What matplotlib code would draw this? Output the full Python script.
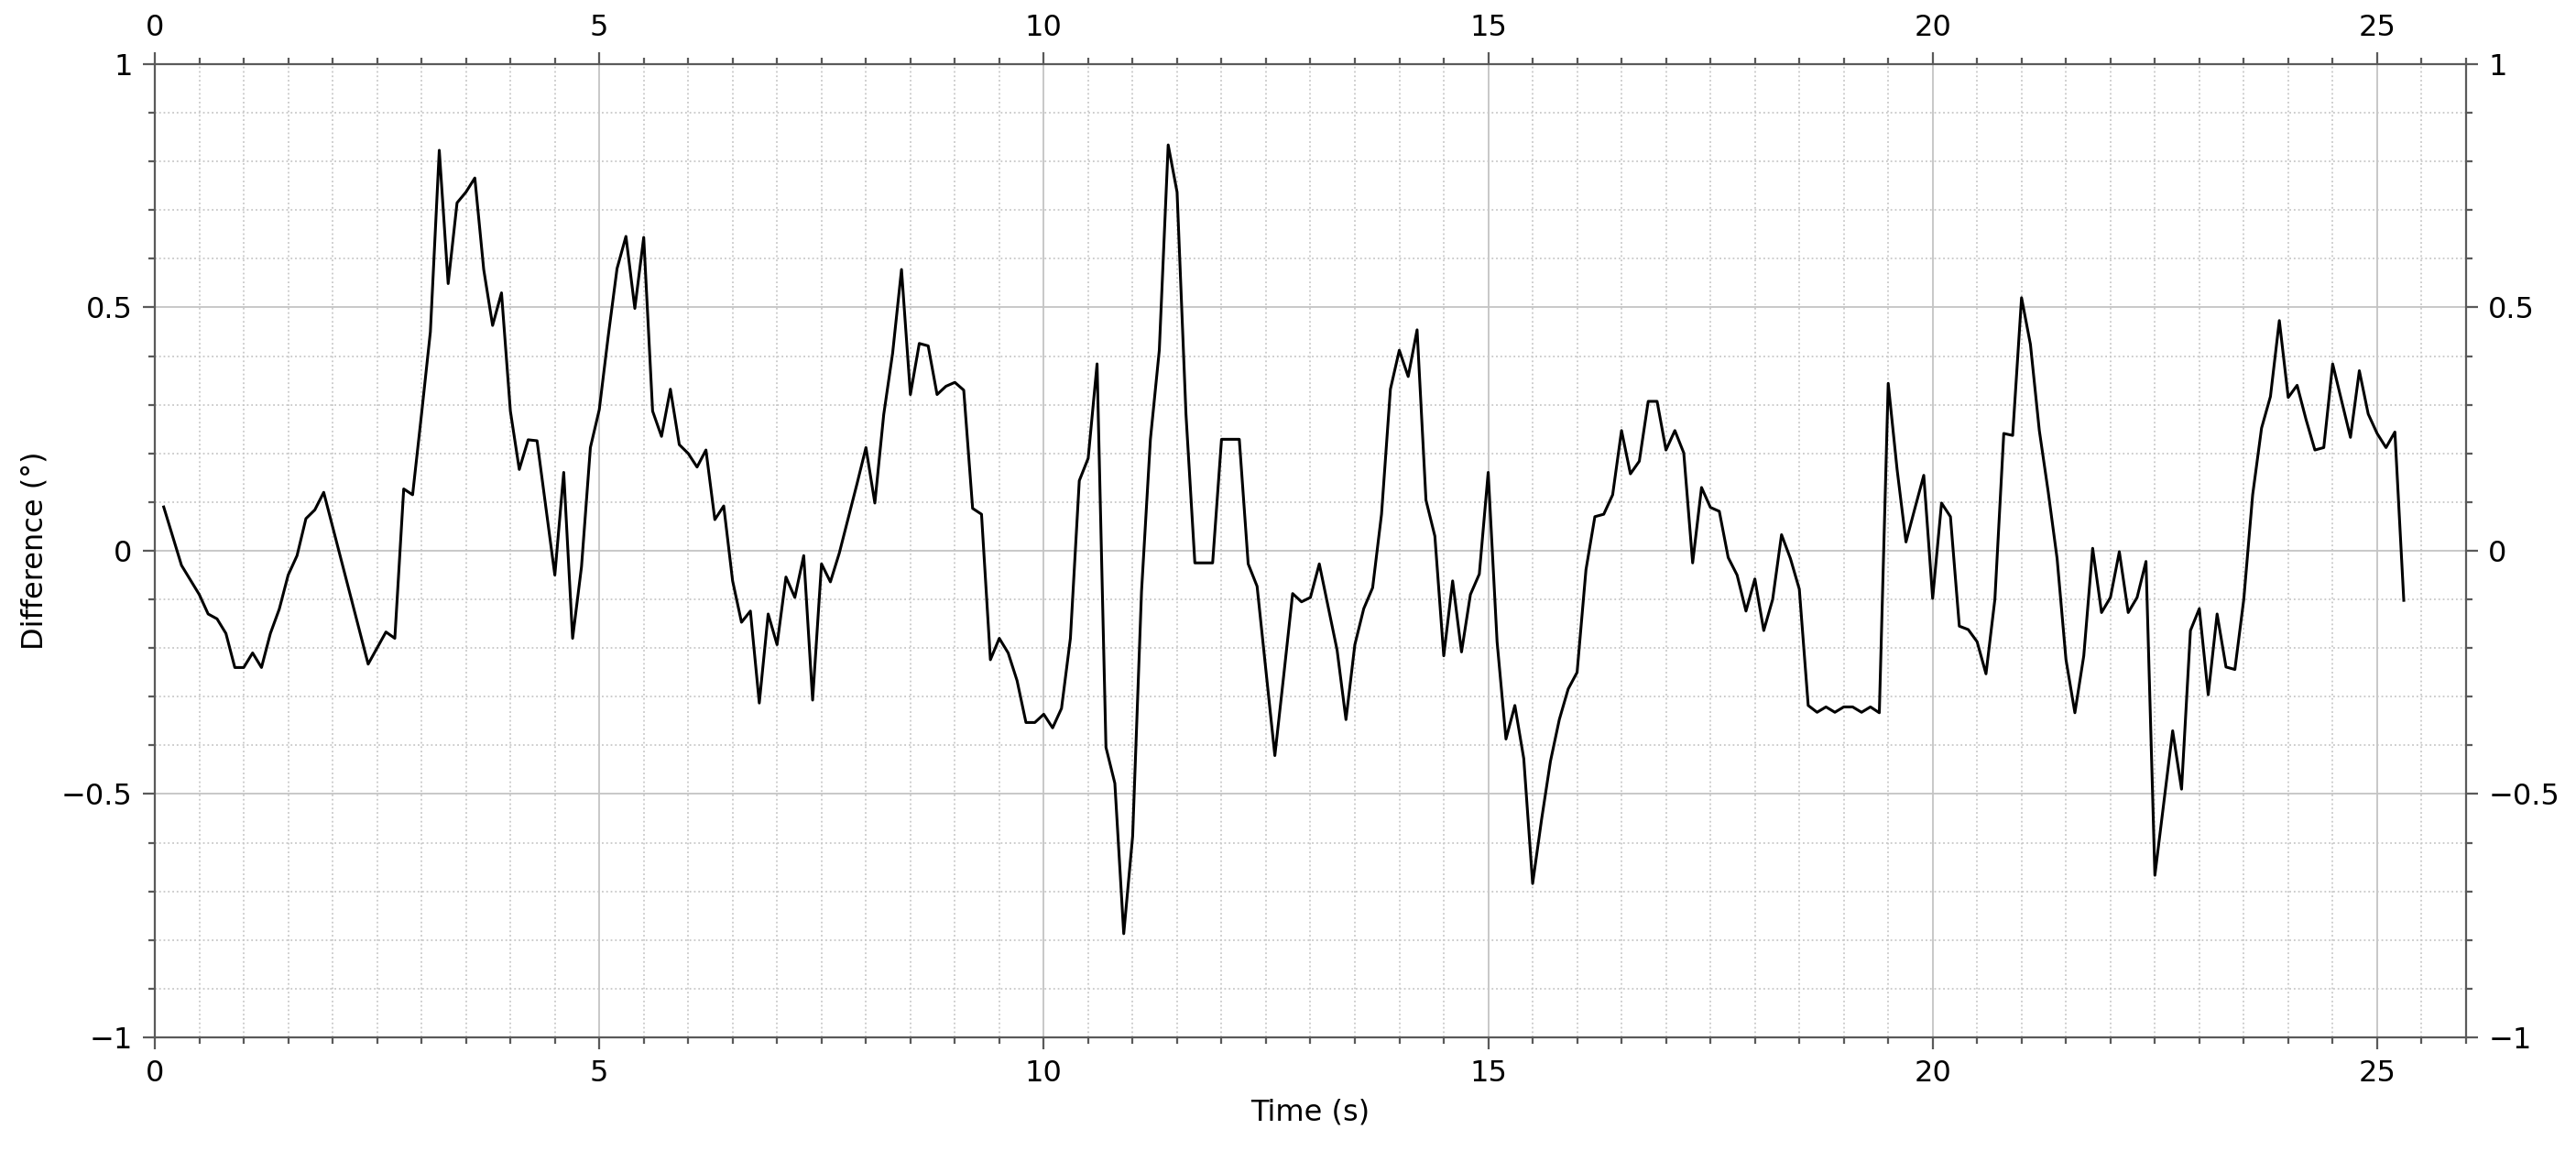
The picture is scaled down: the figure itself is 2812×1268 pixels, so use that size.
import numpy as np
import matplotlib
matplotlib.use("Agg")
import matplotlib.pyplot as plt
from matplotlib.ticker import MultipleLocator

# Sample times (s) of the visible vertices of the trace
time_s = [
    0.1, 0.2, 0.3, 0.4, 0.5, 0.6, 0.7, 0.8, 0.9, 1.0,
    1.1, 1.2, 1.3, 1.4, 1.5, 1.6, 1.7, 1.8, 1.9, 2.4,
    2.5, 2.6, 2.7, 2.8, 2.9, 3.0, 3.1, 3.2, 3.3, 3.4,
    3.5, 3.6, 3.7, 3.8, 3.9, 4.0, 4.1, 4.2, 4.3, 4.5,
    4.6, 4.7, 4.8, 4.9, 5.0, 5.1, 5.2, 5.3, 5.4, 5.5,
    5.6, 5.7, 5.8, 5.9, 6.0, 6.1, 6.2, 6.3, 6.4, 6.5,
    6.6, 6.7, 6.8, 6.9, 7.0, 7.1, 7.2, 7.3, 7.4, 7.5,
    7.6, 7.7, 7.9, 8.0, 8.1, 8.2, 8.3, 8.4, 8.5, 8.6,
    8.7, 8.8, 8.9, 9.0, 9.1, 9.2, 9.3, 9.4, 9.5, 9.6,
    9.7, 9.8, 9.9, 10.0, 10.1, 10.2, 10.3, 10.4, 10.5, 10.6,
    10.7, 10.8, 10.9, 11.0, 11.1, 11.2, 11.3, 11.4, 11.5, 11.6,
    11.7, 11.8, 11.9, 12.0, 12.1, 12.2, 12.3, 12.4, 12.6, 12.7,
    12.8, 12.9, 13.0, 13.1, 13.3, 13.4, 13.5, 13.6, 13.7, 13.8,
    13.9, 14.0, 14.1, 14.2, 14.3, 14.4, 14.5, 14.6, 14.7, 14.8,
    14.9, 15.0, 15.1, 15.2, 15.3, 15.4, 15.5, 15.6, 15.7, 15.8,
    15.9, 16.0, 16.1, 16.2, 16.3, 16.4, 16.5, 16.6, 16.7, 16.8,
    16.9, 17.0, 17.1, 17.2, 17.3, 17.4, 17.5, 17.6, 17.7, 17.8,
    17.9, 18.0, 18.1, 18.2, 18.3, 18.4, 18.5, 18.6, 18.7, 18.8,
    18.9, 19.0, 19.1, 19.2, 19.3, 19.4, 19.5, 19.6, 19.7, 19.8,
    19.9, 20.0, 20.1, 20.2, 20.3, 20.4, 20.5, 20.6, 20.7, 20.8,
    20.9, 21.0, 21.1, 21.2, 21.3, 21.4, 21.5, 21.6, 21.7, 21.8,
    21.9, 22.0, 22.1, 22.2, 22.3, 22.4, 22.5, 22.6, 22.7, 22.8,
    22.9, 23.0, 23.1, 23.2, 23.3, 23.4, 23.5, 23.6, 23.7, 23.8,
    23.9, 24.0, 24.1, 24.2, 24.3, 24.4, 24.5, 24.7, 24.8, 24.9,
    25.0, 25.1, 25.2, 25.3,
]

# Difference (deg)
difference_deg = [
    0.09, 0.03, -0.03, -0.06, -0.09, -0.13, -0.14, -0.17, -0.24, -0.24,
    -0.21, -0.24, -0.17, -0.12, -0.05, -0.01, 0.066, 0.084, 0.12, -0.233,
    -0.20, -0.167, -0.18, 0.127, 0.115, 0.28, 0.45, 0.823, 0.549, 0.715,
    0.737, 0.766, 0.578, 0.463, 0.53, 0.287, 0.167, 0.228, 0.226, -0.05,
    0.161, -0.18, -0.033, 0.212, 0.29, 0.44, 0.58, 0.646, 0.498, 0.644,
    0.287, 0.235, 0.332, 0.218, 0.20, 0.172, 0.207, 0.064, 0.092, -0.062,
    -0.147, -0.124, -0.313, -0.13, -0.193, -0.054, -0.096, -0.01, -0.307, -0.027,
    -0.064, -0.005, 0.138, 0.212, 0.098, 0.28, 0.406, 0.578, 0.321, 0.426,
    0.421, 0.321, 0.338, 0.346, 0.33, 0.087, 0.075, -0.224, -0.18, -0.21,
    -0.267, -0.353, -0.353, -0.336, -0.364, -0.324, -0.18, 0.144, 0.19, 0.384,
    -0.404, -0.478, -0.787, -0.587, -0.084, 0.229, 0.412, 0.834, 0.737, 0.281,
    -0.025, -0.025, -0.025, 0.229, 0.229, 0.229, -0.027, -0.073, -0.421, -0.256,
    -0.088, -0.105, -0.096, -0.027, -0.204, -0.347, -0.193, -0.119, -0.076, 0.075,
    0.332, 0.412, 0.358, 0.454, 0.104, 0.03, -0.216, -0.062, -0.208, -0.09,
    -0.048, 0.161, -0.187, -0.387, -0.318, -0.427, -0.684, -0.553, -0.433, -0.347,
    -0.284, -0.25, -0.039, 0.07, 0.075, 0.115, 0.247, 0.158, 0.184, 0.307,
    0.307, 0.207, 0.247, 0.201, -0.025, 0.13, 0.089, 0.081, -0.014, -0.05,
    -0.124, -0.058, -0.164, -0.10, 0.033, -0.016, -0.079, -0.318, -0.332, -0.321,
    -0.332, -0.321, -0.321, -0.332, -0.321, -0.333, 0.344, 0.167, 0.018, 0.087,
    0.155, -0.098, 0.098, 0.07, -0.155, -0.162, -0.187, -0.253, -0.10, 0.241,
    0.237, 0.52, 0.424, 0.247, 0.121, -0.016, -0.224, -0.333, -0.216, 0.005,
    -0.127, -0.096, -0.002, -0.127, -0.096, -0.022, -0.667, -0.518, -0.37, -0.49,
    -0.164, -0.119, -0.296, -0.13, -0.239, -0.244, -0.10, 0.115, 0.252, 0.317,
    0.473, 0.315, 0.34, 0.27, 0.207, 0.212, 0.384, 0.233, 0.37, 0.281,
    0.241, 0.212, 0.244, -0.102,
]

x_ticks = [0, 5, 10, 15, 20, 25]
y_ticks = [-1, -0.5, 0, 0.5, 1]
y_tick_labels = ["\u22121", "\u22120.5", "0", "0.5", "1"]

FS = 23
AXIS_COLOR = "#5a5a5a"

fig = plt.figure(figsize=(28.12, 12.68), dpi=100)
ax = fig.add_axes([0.0601, 0.1073, 0.8972, 0.8375])

ax.plot(time_s, difference_deg, color="black", linewidth=2.2)

ax.set_xlim(0, 26)
ax.set_ylim(-1, 1)
ax.set_xticks(x_ticks)
ax.set_yticks(y_ticks)
ax.set_yticklabels(y_tick_labels)
ax.xaxis.set_minor_locator(MultipleLocator(0.5))
ax.yaxis.set_minor_locator(MultipleLocator(0.1))

# Grid: solid major, dotted minor
ax.grid(which="major", color="#c4c4c4", linestyle="-", linewidth=1.3)
ax.grid(which="minor", color="#c8c8c8", linestyle=":", linewidth=1.3)
ax.set_axisbelow(True)

for side in ["left", "right", "top", "bottom"]:
    ax.spines[side].set_color(AXIS_COLOR)
    ax.spines[side].set_linewidth(1.6)

ax.tick_params(which="both", direction="out", top=True, right=True,
               labeltop=True, labelright=True, color=AXIS_COLOR,
               labelsize=FS, width=1.6)
ax.tick_params(which="major", length=9.5, pad=8)
ax.tick_params(which="minor", length=5)

ax.set_xlabel("Time (s)", fontsize=FS, labelpad=8)
ax.set_ylabel("Difference (\u00b0)", fontsize=FS, labelpad=10)

fig.savefig("out.png", dpi=100, facecolor="white")
